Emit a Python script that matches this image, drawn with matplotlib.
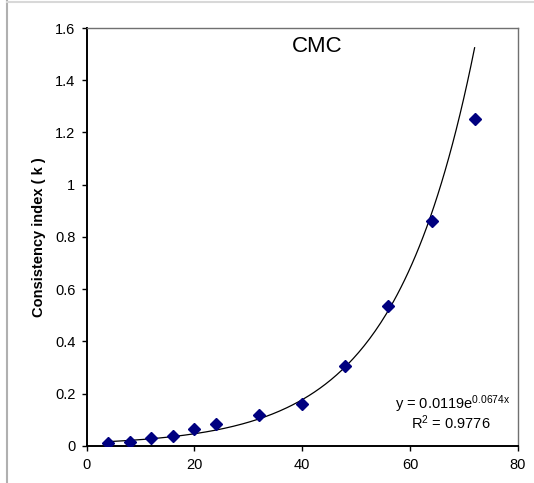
import numpy as np
import matplotlib
matplotlib.use("Agg")
import matplotlib.pyplot as plt
from matplotlib.lines import Line2D

plt.rcParams['font.family'] = ['Liberation Sans', 'DejaVu Sans']

x_vals = [4, 8, 12, 16, 20, 24, 32, 40, 48, 56, 64, 72]
k_vals = [0.009, 0.015, 0.030, 0.037, 0.063, 0.084, 0.116, 0.160, 0.305, 0.535, 0.861, 1.253]
fit_a = 0.0119
fit_b = 0.0674
title_text = "CMC"
ylabel_text = "Consistency index ( k )"
eq_text = "y = 0.0119e$\\mathregular{^{0.0674x}}$"
r2_text = "R$\\mathregular{^{2}}$ = 0.9776"
xticks = [0, 20, 40, 60, 80]
yticks = [0, 0.2, 0.4, 0.6, 0.8, 1.0, 1.2, 1.4, 1.6]
ytick_labels = ["0", "0.2", "0.4", "0.6", "0.8", "1", "1.2", "1.4", "1.6"]

fig = plt.figure(figsize=(5.34, 4.83), dpi=100)
ax = fig.add_axes([0.1624, 0.0772, 0.8071, 0.8648])

xf = np.linspace(min(x_vals), max(x_vals), 200)
ax.plot(xf, fit_a * np.exp(fit_b * xf), color='black', lw=0.9, zorder=2)
ax.plot(x_vals, k_vals, linestyle='none', marker='D', markersize=6,
        color='#000080', markeredgecolor='#000080', zorder=3)

ax.set_xlim(0, 80)
ax.set_ylim(0, 1.6)
ax.set_xticks(xticks)
ax.set_xticklabels([str(t) for t in xticks])
ax.set_yticks(yticks)
ax.set_yticklabels(ytick_labels)
ax.tick_params(direction='out', length=3.6, width=1, labelsize=10.5, colors='black')
ax.tick_params(axis='x', pad=5)
ax.tick_params(axis='y', pad=4.5)

for s in ['left', 'bottom']:
    ax.spines[s].set_color('black')
    ax.spines[s].set_linewidth(1.4)
for s in ['top', 'right']:
    ax.spines[s].set_color('#707070')
    ax.spines[s].set_linewidth(1.0)

ax.set_ylabel(ylabel_text, fontsize=10.5, fontweight='bold')
ax.yaxis.set_label_coords(-0.094, 0.5)

ax.text(0.535, 0.956, title_text, transform=ax.transAxes, fontsize=16,
        ha='center', va='center')

ax.text(0.982, 0.0870, eq_text, transform=ax.transAxes,
        fontsize=10.5, ha='right', va='baseline')
ax.text(0.938, 0.0390, r2_text, transform=ax.transAxes,
        fontsize=10.5, ha='right', va='baseline')

fig.add_artist(Line2D([7/534, 7/534], [0, 1], transform=fig.transFigure,
                      color='#b0b0b0', lw=1.5))
fig.add_artist(Line2D([7/534, 1], [1 - 1.5/483, 1 - 1.5/483], transform=fig.transFigure,
                      color='#d8d8d8', lw=1.5))

fig.savefig("out.png", dpi=100)
